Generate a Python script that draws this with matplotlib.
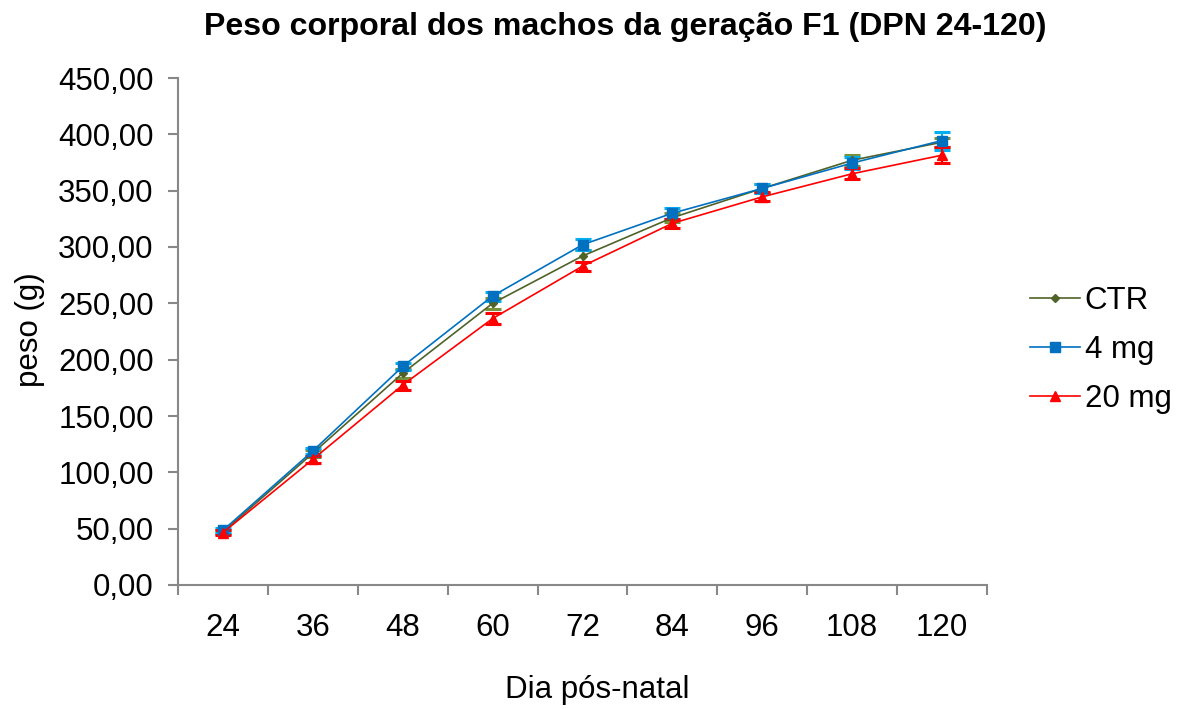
import matplotlib
matplotlib.use("Agg")
import matplotlib.pyplot as plt
from matplotlib.ticker import FixedLocator, FuncFormatter
import numpy as np

plt.rcParams['font.family'] = ['Liberation Sans', 'DejaVu Sans']

days = ["24", "36", "48", "60", "72", "84", "96", "108", "120"]
ctr = [47, 117, 188, 250, 292, 326, 352, 377, 393]
ctr_err = [2, 3, 4, 5, 5, 4, 4, 5, 4]
mg4 = [48.5, 119, 194, 256.5, 302, 330, 352, 374.5, 394.5]
mg4_err = [2, 3, 3, 4, 5, 5, 4, 5, 8]
mg20 = [46.5, 111.5, 177.5, 236.5, 283, 321, 344.5, 365, 381.5]
mg20_err = [2, 3, 4, 5, 4, 4, 4, 5, 7]

fig = plt.figure(figsize=(11.8, 7.09), dpi=100)
ax = fig.add_axes([178/1180, 1-585/709, (987-178)/1180, (585-78)/709])

x = np.arange(len(days))

series = [
    ("CTR", ctr, ctr_err, "#4F6228", "#76923C", "D", 4.5),
    ("4 mg", mg4, mg4_err, "#0070C0", "#00B0F0", "s", 7),
    ("20 mg", mg20, mg20_err, "#FF0000", "#FF0000", "^", 7.5),
]
for label, y, e, lc, ec, m, ms in series:
    ax.errorbar(x, y, yerr=e, fmt="none", ecolor=ec, elinewidth=1.5,
                capsize=6, capthick=2.2, zorder=2)
    ax.plot(x, y, color=lc, lw=1.2, marker=m, markersize=ms,
            markerfacecolor=lc, markeredgecolor=lc, label=label, zorder=3)

ax.set_xlim(-0.5, len(days) - 0.5)
ax.set_ylim(0, 450)
ax.yaxis.set_major_locator(FixedLocator(np.arange(0, 451, 50)))
ax.yaxis.set_major_formatter(FuncFormatter(lambda v, p: f"{v:.2f}".replace(".", ",")))
ax.set_xticks(x)
ax.set_xticklabels(days)
ax.xaxis.set_minor_locator(FixedLocator(np.arange(-0.5, len(days), 1.0)))
ax.tick_params(axis="x", which="major", length=0, labelsize=22.5, pad=20, colors="black")
ax.tick_params(axis="x", which="minor", length=7, width=1.5, color="#888888", direction="out")
ax.tick_params(axis="y", which="major", length=7, width=1.5, color="#888888",
               labelsize=22.5, pad=10.5, labelcolor="black")

for s in ("top", "right"):
    ax.spines[s].set_visible(False)
for s in ("left", "bottom"):
    ax.spines[s].set_color("#888888")
    ax.spines[s].set_linewidth(1.5)

fig.text(625/1180, 1-27/709, "Peso corporal dos machos da geração F1 (DPN 24-120)",
         ha="center", va="center", fontsize=23.1, fontweight="bold")
fig.text(30/1180, 1-330/709, "peso (g)", rotation=90, ha="center", va="center", fontsize=22.5)
fig.text(597/1180, 1-690/709, "Dia pós-natal", ha="center", va="center", fontsize=22.5)

fig.legend(loc="center left", bbox_to_anchor=(1030/1180, 1-350/709), frameon=False,
           fontsize=22.5, handlelength=1.6, handletextpad=0.15, labelspacing=0.6,
           borderaxespad=0, borderpad=0)

fig.savefig("out.png", dpi=100)
